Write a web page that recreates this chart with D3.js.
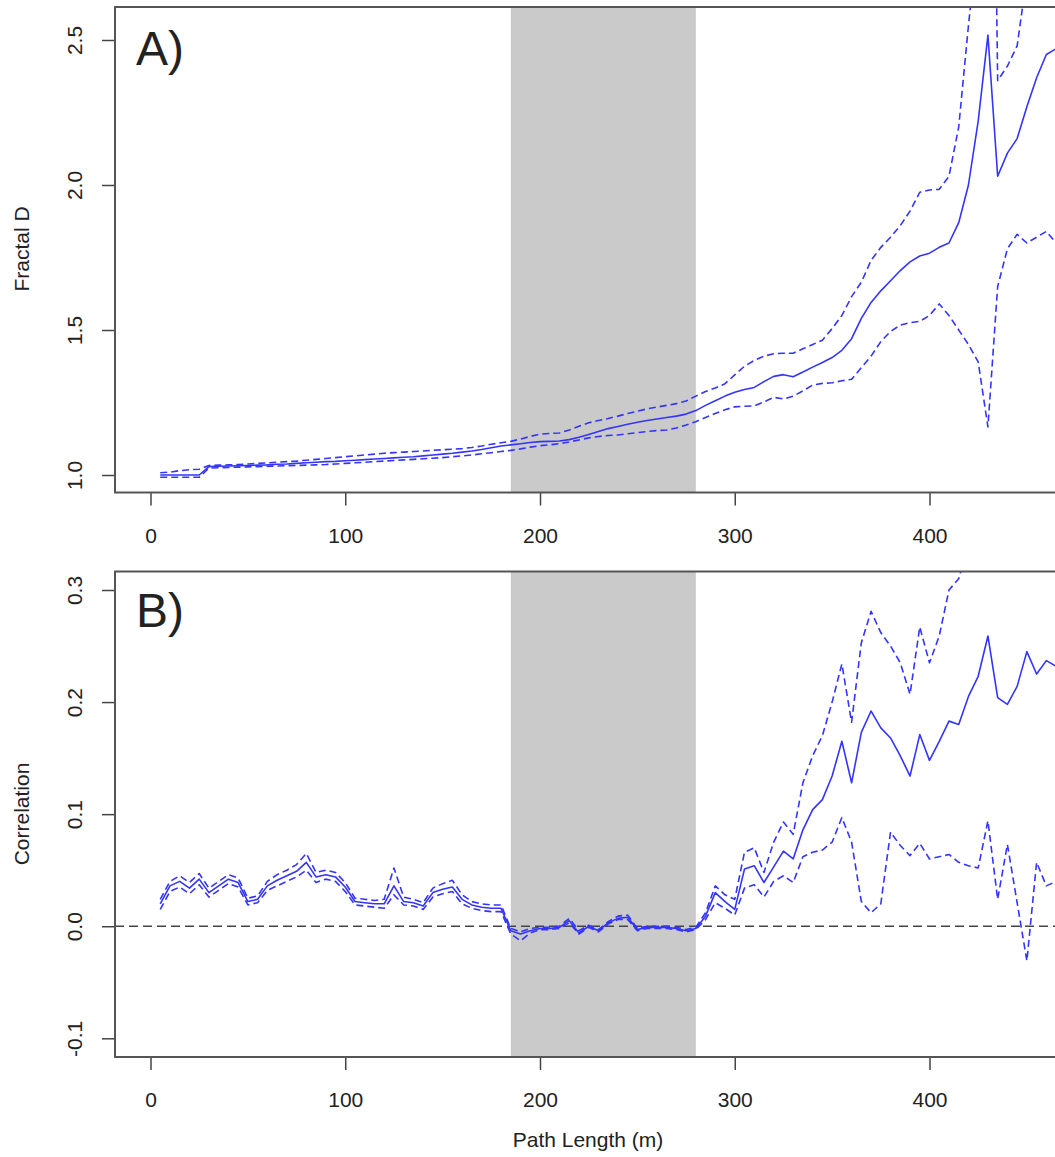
<!DOCTYPE html>
<html>
<head>
<meta charset="utf-8">
<script src="https://cdn.jsdelivr.net/npm/d3@7"></script>
<style>
  body { margin: 0; background: #fff; }
  text { font-family: "Liberation Sans", Arial, sans-serif; fill: #222; }
</style>
</head>
<body>
<div id="chart"></div>
<script>
// path length (m) at which each window was computed
const pathLength = [
  5,10,15,20,25,30,35,40,45,50,
  55,60,65,70,75,80,85,90,95,100,
  105,110,115,120,125,130,135,140,145,150,
  155,160,165,170,175,180,185,190,195,200,
  205,210,215,220,225,230,235,240,245,250,
  255,260,265,270,275,280,285,290,295,300,
  305,310,315,320,325,330,335,340,345,350,
  355,360,365,370,375,380,385,390,395,400,
  405,410,415,420,425,430,435,440,445,450,
  455,460,465
];

// A) fractal D, mean and 95% band
const fractalMean = [
  1.000,1.000,1.000,1.000,1.000,1.029,1.030,1.031,1.032,1.033,
  1.034,1.035,1.037,1.038,1.040,1.042,1.044,1.046,1.047,1.049,
  1.051,1.053,1.055,1.057,1.059,1.061,1.063,1.066,1.069,1.072,
  1.075,1.079,1.083,1.088,1.094,1.100,1.104,1.108,1.112,1.115,
  1.116,1.117,1.122,1.130,1.140,1.150,1.160,1.167,1.175,1.182,
  1.188,1.193,1.198,1.203,1.210,1.222,1.240,1.256,1.272,1.285,
  1.295,1.302,1.322,1.340,1.346,1.339,1.355,1.372,1.388,1.405,
  1.430,1.470,1.540,1.595,1.635,1.670,1.705,1.735,1.755,1.765,
  1.785,1.800,1.870,2.000,2.220,2.517,2.030,2.110,2.160,2.270,
  2.370,2.450,2.470
];
const fractalUpper = [
  1.008,1.010,1.015,1.018,1.020,1.033,1.034,1.035,1.036,1.038,
  1.040,1.042,1.044,1.046,1.048,1.051,1.054,1.057,1.060,1.063,
  1.066,1.069,1.072,1.075,1.077,1.079,1.081,1.083,1.085,1.087,
  1.089,1.091,1.095,1.100,1.106,1.111,1.116,1.124,1.133,1.141,
  1.143,1.145,1.155,1.168,1.180,1.188,1.195,1.203,1.212,1.220,
  1.228,1.234,1.240,1.246,1.255,1.272,1.288,1.300,1.315,1.345,
  1.375,1.395,1.410,1.418,1.420,1.420,1.435,1.450,1.465,1.505,
  1.550,1.615,1.665,1.740,1.785,1.820,1.860,1.910,1.975,1.983,
  1.985,2.030,2.200,2.550,2.870,4.900,2.360,2.410,2.480,2.720,
  2.950,3.100,3.150
];
const fractalLower = [
  0.992,0.992,0.992,0.992,0.992,1.024,1.025,1.026,1.027,1.028,
  1.029,1.030,1.031,1.032,1.033,1.034,1.035,1.036,1.038,1.040,
  1.042,1.044,1.046,1.048,1.050,1.052,1.054,1.056,1.058,1.060,
  1.063,1.066,1.069,1.073,1.077,1.081,1.085,1.090,1.096,1.101,
  1.104,1.108,1.114,1.121,1.128,1.133,1.136,1.138,1.142,1.146,
  1.150,1.153,1.155,1.162,1.172,1.184,1.198,1.212,1.225,1.235,
  1.237,1.238,1.252,1.268,1.262,1.272,1.290,1.310,1.316,1.318,
  1.325,1.330,1.370,1.410,1.460,1.495,1.517,1.525,1.530,1.550,
  1.590,1.550,1.500,1.450,1.390,1.166,1.650,1.780,1.830,1.800,
  1.820,1.840,1.800
];

// B) correlation, mean and 95% band
const corrMean = [
  0.020,0.036,0.040,0.034,0.042,0.030,0.036,0.042,0.039,0.022,
  0.024,0.036,0.041,0.045,0.049,0.057,0.044,0.046,0.044,0.035,
  0.022,0.021,0.020,0.020,0.036,0.022,0.021,0.018,0.030,0.033,
  0.035,0.024,0.019,0.017,0.016,0.016,-0.004,-0.007,-0.004,-0.002,
  -0.002,-0.001,0.005,-0.006,0.000,-0.004,0.003,0.007,0.008,-0.003,
  -0.001,-0.001,-0.001,-0.002,-0.004,-0.002,0.009,0.030,0.022,0.015,
  0.051,0.054,0.039,0.053,0.067,0.060,0.086,0.104,0.113,0.134,
  0.165,0.128,0.173,0.192,0.177,0.168,0.152,0.134,0.171,0.148,
  0.165,0.183,0.180,0.205,0.223,0.259,0.204,0.198,0.214,0.245,
  0.225,0.237,0.232
];
const corrUpper = [
  0.024,0.040,0.045,0.039,0.047,0.034,0.040,0.046,0.043,0.025,
  0.027,0.040,0.046,0.050,0.055,0.065,0.048,0.050,0.048,0.039,
  0.025,0.024,0.023,0.024,0.052,0.026,0.024,0.021,0.034,0.038,
  0.041,0.028,0.022,0.020,0.019,0.019,-0.002,-0.005,-0.002,-0.001,
  -0.001,0.000,0.007,-0.004,0.001,-0.003,0.004,0.009,0.010,-0.002,
  0.000,0.000,0.000,-0.001,-0.003,-0.001,0.012,0.036,0.028,0.024,
  0.066,0.070,0.048,0.075,0.093,0.082,0.128,0.152,0.170,0.200,
  0.234,0.182,0.253,0.281,0.262,0.250,0.235,0.207,0.267,0.235,
  0.259,0.300,0.310,0.340,0.360,0.400,0.380,0.390,0.410,0.440,
  0.430,0.440,0.440
];
const corrLower = [
  0.015,0.031,0.035,0.029,0.037,0.026,0.032,0.038,0.035,0.019,
  0.021,0.032,0.036,0.040,0.044,0.050,0.039,0.042,0.040,0.031,
  0.019,0.018,0.017,0.016,0.028,0.019,0.018,0.015,0.026,0.029,
  0.031,0.020,0.016,0.014,0.013,0.013,-0.007,-0.013,-0.006,-0.003,
  -0.003,-0.002,0.003,-0.007,-0.001,-0.005,0.002,0.006,0.006,-0.004,
  -0.002,-0.002,-0.002,-0.003,-0.005,-0.003,0.006,0.021,0.016,0.010,
  0.034,0.037,0.026,0.040,0.045,0.039,0.062,0.066,0.068,0.075,
  0.097,0.075,0.022,0.012,0.020,0.084,0.072,0.063,0.074,0.060,
  0.062,0.064,0.057,0.054,0.052,0.094,0.024,0.073,0.021,-0.031,
  0.057,0.036,0.040
];

const xTicks = [0, 100, 200, 300, 400];
const fractalTicks = [1.0, 1.5, 2.0, 2.5];
const corrTicks = [-0.1, 0.0, 0.1, 0.2, 0.3];
const shaded = [185, 280];

const width = 1055, height = 1157;
const plotLeft = 115, plotRight = 1064;

const svg = d3.select("#chart").append("svg")
  .attr("width", width)
  .attr("height", height);

const x = d3.scaleLinear().domain([0, 400]).range([150.5, 929.5]);

// R prints a plain hyphen for negatives
const fmt1 = d => d.toFixed(1);

function drawPanel(id, top, bottom, y, ticks, label, labelY, mean, upper, lower, zeroLine) {
  const g = svg.append("g");

  g.append("clipPath").attr("id", "clip-" + id)
    .append("rect")
    .attr("x", plotLeft).attr("y", top)
    .attr("width", plotRight - plotLeft).attr("height", bottom - top);

  const inner = g.append("g").attr("clip-path", "url(#clip-" + id + ")");

  inner.append("rect")
    .attr("x", x(shaded[0]))
    .attr("y", top)
    .attr("width", x(shaded[1]) - x(shaded[0]))
    .attr("height", bottom - top)
    .attr("fill", "#cacaca");

  if (zeroLine) {
    inner.append("line")
      .attr("x1", plotLeft).attr("x2", plotRight)
      .attr("y1", y(0)).attr("y2", y(0))
      .attr("stroke", "#444")
      .attr("stroke-width", 1.5)
      .attr("stroke-dasharray", "9,5");
  }

  const line = d3.line()
    .x((d, i) => x(pathLength[i]))
    .y(d => y(d));

  [[lower, true], [upper, true], [mean, false]].forEach(([vals, dashed]) => {
    inner.append("path")
      .datum(vals)
      .attr("d", line)
      .attr("fill", "none")
      .attr("stroke", "#3434ff")
      .attr("stroke-width", 1.6)
      .attr("stroke-linejoin", "round")
      .attr("stroke-dasharray", dashed ? "7,4" : null);
  });

  // bottom axis
  const xa = g.append("g")
    .attr("transform", "translate(0," + bottom + ")")
    .call(d3.axisBottom(x).tickValues(xTicks).tickSize(13).tickPadding(22.5));
  xa.select(".domain").remove();
  xa.selectAll("line").attr("stroke", "#444").attr("stroke-width", 1.5);
  xa.selectAll("text").attr("font-size", 21).attr("fill", "#222")
    .attr("font-family", "Liberation Sans, Arial, sans-serif");

  // left axis, labels rotated as in R
  const ya = g.append("g")
    .attr("transform", "translate(" + plotLeft + ",0)")
    .call(d3.axisLeft(y).tickValues(ticks).tickSize(13).tickFormat(fmt1));
  ya.select(".domain").remove();
  ya.selectAll("line").attr("stroke", "#444").attr("stroke-width", 1.5);
  ya.selectAll("text")
    .attr("x", null)
    .attr("dy", "0.35em")
    .attr("text-anchor", "middle")
    .attr("transform", "translate(-40,0) rotate(-90)")
    .attr("font-size", 21).attr("fill", "#222")
    .attr("font-family", "Liberation Sans, Arial, sans-serif");

  g.append("rect")
    .attr("x", plotLeft).attr("y", top)
    .attr("width", plotRight - plotLeft).attr("height", bottom - top)
    .attr("fill", "none")
    .attr("stroke", "#555")
    .attr("stroke-width", 2);

  g.append("text")
    .attr("x", 136).attr("y", labelY)
    .attr("font-size", 48)
    .attr("fill", "#000")
    .text(label);
}

const yFractal = d3.scaleLinear().domain([1.0, 2.5]).range([475, 40]);
const yCorr = d3.scaleLinear().domain([-0.1, 0.3]).range([1038.3, 590]);

drawPanel("a", 7, 492.5, yFractal, fractalTicks, "A)", 65,
  fractalMean, fractalUpper, fractalLower, false);
drawPanel("b", 571.5, 1057, yCorr, corrTicks, "B)", 627,
  corrMean, corrUpper, corrLower, true);

// axis titles
svg.append("text")
  .attr("transform", "translate(29,249) rotate(-90)")
  .attr("text-anchor", "middle")
  .attr("font-size", 21)
  .text("Fractal D");

svg.append("text")
  .attr("transform", "translate(29,814) rotate(-90)")
  .attr("text-anchor", "middle")
  .attr("font-size", 21)
  .text("Correlation");

svg.append("text")
  .attr("x", 588).attr("y", 1147)
  .attr("text-anchor", "middle")
  .attr("font-size", 21)
  .text("Path Length (m)");
</script>
</body>
</html>
